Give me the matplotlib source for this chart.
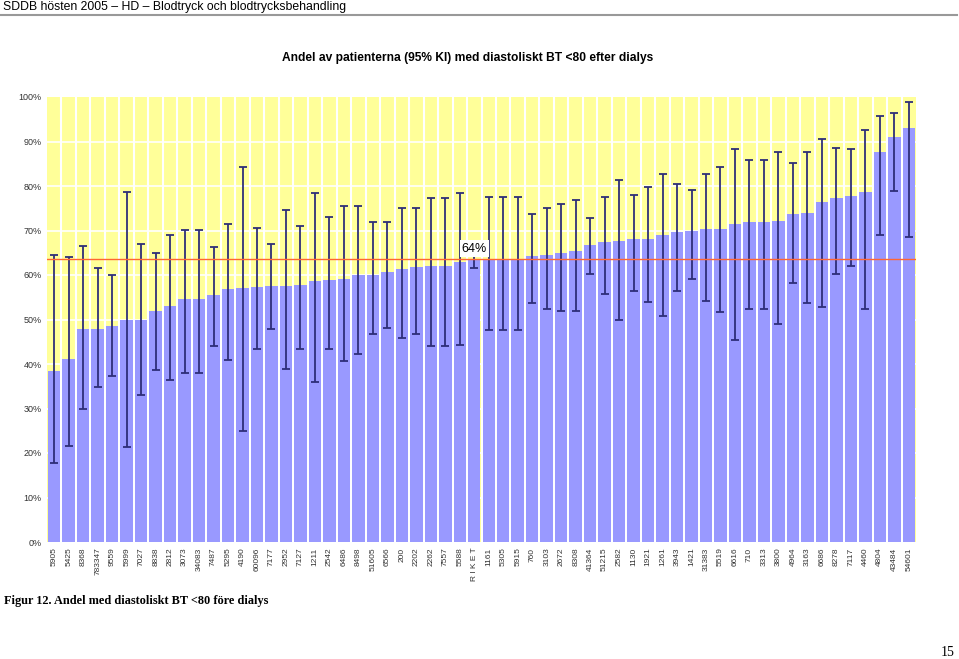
import matplotlib
matplotlib.use("Agg")
import matplotlib.pyplot as plt
from matplotlib.lines import Line2D
import numpy as np

categories = ["5905", "5425", "8368", "783347", "9559", "5999", "7027", "8838", "2812", "3073",
              "34083", "7487", "5295", "4190", "60096", "7177", "2952", "7127", "1211", "2542",
              "6486", "8498", "51605", "6566", "200", "2202", "2262", "7557", "5588", "R I K E T",
              "1161", "5305", "5915", "760", "3103", "2672", "8308", "41364", "51215", "2582",
              "1130", "1921", "1261", "3943", "1421", "31383", "5519", "6616", "710", "3313",
              "3800", "4964", "3163", "6686", "8278", "7117", "4460", "4804", "43484", "54601"]

values = [38.4, 41.1, 47.9, 47.9, 48.5, 49.9, 49.9, 51.9, 53.0, 54.5,
          54.5, 55.4, 56.8, 57.1, 57.4, 57.5, 57.6, 57.8, 58.7, 58.9,
          59.2, 60.0, 60.0, 60.7, 61.4, 61.9, 62.0, 62.0, 62.9, 63.6,
          63.7, 63.7, 63.7, 64.3, 64.6, 64.9, 65.3, 66.7, 67.5, 67.6,
          68.1, 68.1, 69.0, 69.7, 70.0, 70.3, 70.4, 71.5, 72.0, 72.0,
          72.2, 73.7, 73.9, 76.5, 77.4, 77.8, 78.6, 87.6, 90.9, 93.0]

ci_upper = [64.6, 64.1, 66.6, 61.5, 59.9, 78.6, 66.9, 64.9, 69.1, 70.2,
            70.2, 66.2, 71.5, 84.3, 70.6, 66.9, 74.5, 71.1, 78.4, 73.0,
            75.6, 75.4, 71.9, 72.0, 75.1, 75.1, 77.4, 77.4, 78.5, 65.0,
            77.6, 77.6, 77.6, 73.7, 75.1, 76.0, 76.9, 72.7, 77.5, 81.4,
            77.9, 79.7, 82.8, 80.5, 79.0, 82.6, 84.2, 88.3, 85.8, 85.8,
            87.6, 85.2, 87.6, 90.5, 88.6, 88.3, 92.5, 95.8, 96.5, 98.8]

ci_lower = [17.7, 21.6, 29.9, 34.8, 37.4, 21.4, 33.1, 38.7, 36.4, 37.9,
            37.9, 44.1, 41.0, 24.9, 43.3, 47.8, 38.9, 43.3, 35.9, 43.4,
            40.7, 42.3, 46.8, 48.2, 45.8, 46.7, 44.0, 44.0, 44.2, 61.6,
            47.6, 47.6, 47.6, 53.6, 52.4, 51.9, 51.8, 60.2, 55.8, 50.0,
            56.3, 53.9, 50.8, 56.4, 59.2, 54.2, 51.6, 45.3, 52.4, 52.4,
            49.1, 58.1, 53.6, 52.7, 60.2, 62.0, 52.4, 69.0, 78.9, 68.6]

riket_label = "64%"
y_ticks = [0, 10, 20, 30, 40, 50, 60, 70, 80, 90, 100]

W, H = 959, 659
fig = plt.figure(figsize=(W / 100, H / 100), dpi=100)
fig.patch.set_facecolor("white")

ax = fig.add_axes([47 / W, 1 - 542 / H, (916 - 47) / W, (542 - 97) / H])
ax.set_facecolor("#FFFF99")

x = np.arange(len(categories))
vals = np.array(values)
up = np.array(ci_upper)
lo = np.array(ci_lower)

ax.set_xlim(-0.5, len(categories) - 0.5)
ax.set_ylim(0, 100)

for yt in y_ticks[1:-1]:
    ax.axhline(yt, color="white", lw=1.2, zorder=1)
for xi in x[:-1]:
    ax.axvline(xi + 0.5, color="white", lw=1.5, zorder=1)

ax.bar(x, vals, width=0.86, color="#9999FF", zorder=2)

ax.errorbar(x, vals, yerr=[vals - lo, up - vals], fmt="none",
            ecolor="#2E2E78", elinewidth=1.3, capsize=3.2, capthick=1.3, zorder=3)

riket_idx = categories.index("R I K E T")
riket_val = values[riket_idx]
ax.axhline(riket_val, color="#FF6633", lw=1.0, zorder=4)
ax.text(riket_idx, riket_val + 1.0, riket_label, ha="center", va="bottom",
        fontsize=9, family="Liberation Sans", zorder=6,
        bbox=dict(facecolor="white", edgecolor="none", pad=1.5))

ax.set_xticks(x)
ax.set_xticklabels(categories, rotation=90, fontsize=6, family="Liberation Sans",
                   color="#333333", va="top")
ax.set_yticks(y_ticks)
ax.set_yticklabels([f"{v}%" for v in y_ticks], fontsize=6.5, family="Liberation Sans",
                   color="#333333")
ax.tick_params(axis="both", length=0, pad=4)
for s in ax.spines.values():
    s.set_visible(False)

fig.text(3 / W, 1 - 7 / H, "SDDB hösten 2005 – HD – Blodtryck och blodtrycksbehandling",
         ha="left", va="center", fontsize=8.8, family="Liberation Sans")
fig.add_artist(Line2D([0, 957 / W], [1 - 14.5 / H, 1 - 14.5 / H], color="#999999",
                      lw=1.5, transform=fig.transFigure))

fig.text(468 / W, 1 - 58 / H,
         "Andel av patienterna (95% KI) med diastoliskt BT <80 efter dialys",
         ha="center", va="center", fontsize=8.65, fontweight="bold", family="Liberation Sans")

fig.text(4 / W, 1 - 601 / H, "Figur 12. Andel med diastoliskt BT <80 före dialys",
         ha="left", va="center", fontsize=8.8, fontweight="bold", family="Liberation Serif")
fig.text(955 / W, 1 - 652 / H, "15", ha="right", va="center", fontsize=10,
         family="Liberation Serif")

fig.savefig("out.png", dpi=100, facecolor="white")
